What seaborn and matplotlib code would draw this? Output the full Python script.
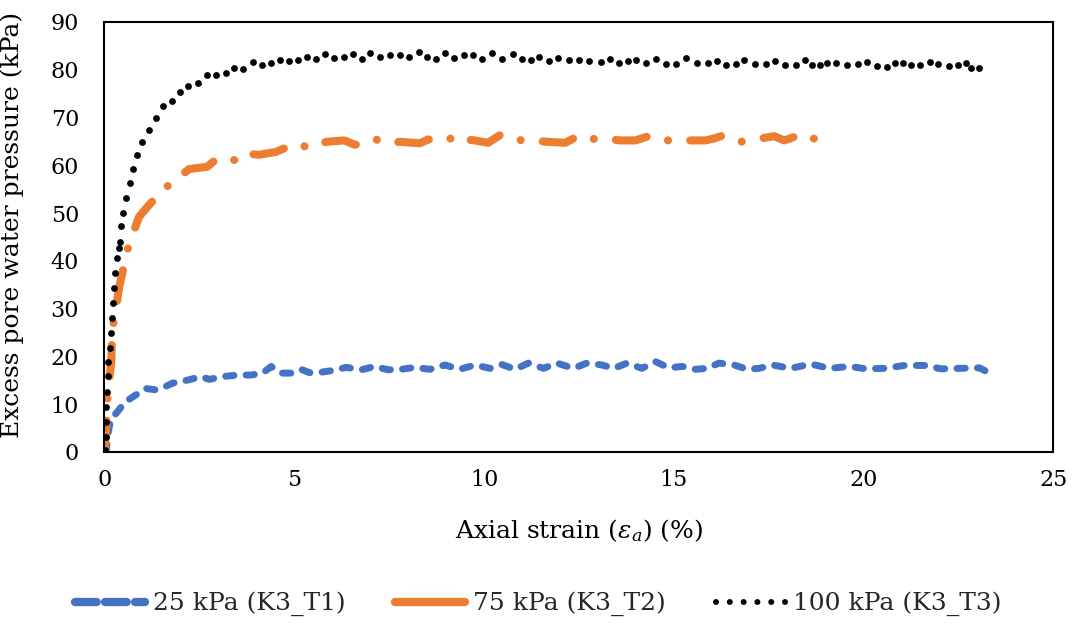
import matplotlib
matplotlib.use("Agg")
import matplotlib.pyplot as plt
from matplotlib.lines import Line2D
import seaborn as sns
import pandas as pd

# ---- data: axial strain (%) vs excess pore water pressure (kPa) ----
t1_strain = [0.0, 0.05, 0.09, 0.16, 0.34, 0.55, 0.82, 1.08, 1.35, 1.61, 1.79, 2.01, 2.27,
             2.54, 2.76, 3.15, 3.51, 3.86, 4.17, 4.39, 4.65, 4.92, 5.18, 5.40, 5.71, 5.97,
             6.37, 6.77, 7.12, 7.47, 7.82, 8.17, 8.57, 8.97, 9.36, 9.76, 10.16, 10.47,
             10.82, 11.17, 11.57, 11.92, 12.36, 12.71, 13.11, 13.42, 13.77, 14.16, 14.52,
             14.87, 15.22, 15.57, 15.88, 16.19, 16.59, 16.94, 17.25, 17.60, 18.08, 18.61,
             19.10, 19.62, 20.07, 20.55, 21.08, 21.61, 22.05, 22.53, 23.06, 23.20]
t1_pwp = [0.0, 0.4, 3.6, 6.7, 8.4, 10.5, 11.9, 13.3, 13.0, 13.7, 14.4, 14.7, 15.2,
          15.8, 15.2, 15.8, 16.1, 16.1, 16.5, 17.9, 16.5, 16.5, 17.3, 16.6, 16.7, 17.0,
          17.7, 17.2, 17.9, 17.2, 17.3, 17.7, 17.3, 18.2, 17.3, 18.2, 17.5, 18.3,
          17.3, 18.6, 17.5, 18.6, 17.5, 18.6, 18.2, 17.5, 18.6, 17.5, 18.9,
          17.6, 17.9, 17.3, 17.5, 18.6, 18.2, 17.3, 17.5, 18.2, 17.5, 18.4,
          17.5, 17.9, 17.4, 17.5, 18.1, 18.1, 17.4, 17.5, 17.6, 17.0]

t2_strain = [0.0, 0.05, 0.09, 0.18, 0.20, 0.30, 0.40, 0.47, 0.63, 0.91, 1.10, 1.30, 1.50,
             1.70, 2.23, 2.71, 2.98, 3.15, 3.42, 3.59, 4.08, 4.52, 5.05, 5.40, 5.84, 6.32,
             6.59, 6.94, 7.16, 7.34, 7.80, 8.31, 8.53, 8.88, 9.10, 9.23, 9.67, 10.11,
             10.42, 10.73, 11.17, 11.67, 12.14, 12.45, 12.67, 13.02, 13.59, 13.99, 14.34,
             14.61, 14.87, 15.40, 15.84, 16.10, 16.32, 16.63, 16.76, 17.16, 17.64, 17.91,
             18.31, 18.53, 18.98]
t2_pwp = [0.0, 6.0, 12.5, 19.0, 25.0, 30.0, 35.0, 37.4, 43.0, 49.2, 51.0, 52.8, 54.5,
          55.9, 59.2, 59.7, 61.5, 61.5, 61.1, 62.5, 62.2, 62.8, 64.6, 63.6, 64.9, 65.2,
          64.3, 64.5, 65.4, 64.7, 64.9, 64.6, 65.4, 65.2, 65.7, 64.7, 65.3, 64.7,
          66.3, 65.2, 65.3, 64.9, 64.7, 66.0, 65.2, 65.7, 65.2, 65.2, 66.1,
          65.3, 65.2, 65.2, 65.2, 65.7, 66.3, 65.3, 64.9, 65.4, 66.1, 65.2,
          66.3, 65.3, 66.1]

t3_strain = [0.02, 0.03, 0.04, 0.05, 0.07, 0.08, 0.09, 0.14, 0.18, 0.20, 0.23, 0.26, 0.29,
             0.32, 0.38, 0.40, 0.44, 0.49, 0.58, 0.67, 0.76, 0.85, 1.00, 1.17, 1.37, 1.54,
             1.79, 1.98, 2.21, 2.47, 2.69, 2.95, 3.20, 3.42, 3.66, 3.92, 4.15, 4.39, 4.63,
             4.87, 5.09, 5.33, 5.58, 5.80, 6.06, 6.32, 6.55, 6.78, 6.99, 7.27, 7.53, 7.78,
             8.03, 8.29, 8.51, 8.74, 8.97, 9.21, 9.47, 9.70, 9.95, 10.22, 10.47, 10.76,
             10.99, 11.23, 11.46, 11.70, 11.95, 12.23, 12.49, 12.76, 13.07, 13.31, 13.55,
             13.79, 14.00, 14.28, 14.52, 14.80, 15.06, 15.33, 15.61, 15.89, 16.13, 16.38,
             16.63, 16.86, 17.14, 17.42, 17.67, 17.94, 18.22, 18.46, 18.64, 18.85, 19.05,
             19.27, 19.56, 19.85, 20.08, 20.35, 20.61, 20.82, 21.04, 21.26, 21.49, 21.74,
             21.97, 22.25, 22.50, 22.69, 22.84, 23.04]
t3_pwp = [0.4, 3.2, 6.3, 9.5, 12.6, 15.8, 18.9, 21.8, 25.0, 28.1, 31.2, 34.3, 37.4,
          40.5, 42.6, 44.0, 47.2, 50.1, 53.1, 56.2, 59.2, 62.2, 64.9, 67.4, 69.8, 72.3,
          73.5, 75.3, 76.5, 77.2, 78.9, 78.8, 79.4, 80.3, 80.1, 81.7, 81.0, 81.3, 82.0,
          81.8, 82.0, 82.7, 82.2, 83.2, 82.5, 82.7, 83.2, 82.3, 83.4, 82.7, 83.0, 83.0,
          82.6, 83.6, 82.7, 82.3, 83.5, 82.5, 83.0, 83.0, 82.3, 83.4, 82.2, 83.2,
          82.3, 82.0, 82.7, 81.8, 82.4, 82.0, 82.0, 81.9, 81.6, 82.2, 81.5,
          81.9, 82.0, 81.4, 82.3, 81.2, 81.1, 82.4, 81.3, 81.4, 81.9, 81.0,
          81.1, 82.1, 81.1, 81.1, 81.9, 81.0, 81.0, 82.0, 80.9, 81.0, 81.4,
          81.3, 80.9, 81.2, 81.7, 80.7, 80.6, 81.5, 81.4, 80.9, 80.9, 81.7,
          81.2, 80.7, 81.0, 81.5, 80.4, 80.4]

series_labels = ["25 kPa (K3_T1)", "75 kPa (K3_T2)", "100 kPa (K3_T3)"]
x_ticks = [0, 5, 10, 15, 20, 25]
y_ticks = [0, 10, 20, 30, 40, 50, 60, 70, 80, 90]

BLUE = "#4472C4"
ORANGE = "#ED7D31"
BLACK = "#000000"

sns.set_theme(style="white")
plt.rcParams["font.family"] = ["DejaVu Serif"]
plt.rcParams["mathtext.fontset"] = "dejavuserif"

df1 = pd.DataFrame({"strain": t1_strain, "pwp": t1_pwp})
df2 = pd.DataFrame({"strain": t2_strain, "pwp": t2_pwp})
df3 = pd.DataFrame({"strain": t3_strain, "pwp": t3_pwp})

fig = plt.figure(figsize=(10.77, 6.26), dpi=100)
ax = fig.add_axes([0.097, 0.278, 0.881, 0.687])

blue_ls = (0, (1.2, 1.75))
orange_ls = (0, (3.9, 2.75, 0.01, 2.75))

sns.lineplot(data=df1, x="strain", y="pwp", ax=ax, sort=False, estimator=None,
             color=BLUE, linewidth=5.0, linestyle=blue_ls, legend=False)
sns.lineplot(data=df2, x="strain", y="pwp", ax=ax, sort=False, estimator=None,
             color=ORANGE, linewidth=5.8, linestyle=orange_ls, legend=False)
sns.scatterplot(data=df3, x="strain", y="pwp", ax=ax, color=BLACK, s=24,
                linewidth=0, legend=False, zorder=4)

for ln in ax.get_lines():
    ln.set_dash_capstyle("round")
    ln.set_solid_capstyle("round")

ax.set_xlim(0, 25)
ax.set_ylim(0, 90)
ax.set_xticks(x_ticks)
ax.set_yticks(y_ticks)
ax.tick_params(axis="both", direction="out", length=5.8, width=1.3,
               color="black", labelsize=16, labelcolor="black")
ax.tick_params(axis="x", pad=6.5)
ax.tick_params(axis="y", pad=12.5)
for sp in ax.spines.values():
    sp.set_visible(True)
    sp.set_color("black")
    sp.set_linewidth(1.5)

ax.set_xlabel(r"Axial strain ($\varepsilon_a$) (%)", fontsize=18, color="black")
ax.set_ylabel("Excess pore water pressure (kPa)", fontsize=18, color="black")
ax.xaxis.set_label_coords(0.5, -0.152)
ax.yaxis.set_label_coords(-0.085, 0.528)

handles = [
    Line2D([], [], color=BLUE, linewidth=6.0, linestyle=(0, (2.6, 1.0)),
           dash_capstyle="round"),
    Line2D([], [], color=ORANGE, linewidth=6.0, linestyle="-",
           solid_capstyle="round"),
    Line2D([], [], color=BLACK, linewidth=4.3, linestyle=(0, (0.01, 2.3)),
           dash_capstyle="round"),
]
fig.legend(handles, series_labels, loc="center", bbox_to_anchor=(0.5, 0.035),
           ncol=3, frameon=False, fontsize=18, handlelength=2.8,
           handletextpad=0.3, columnspacing=2.0)

fig.savefig("out.png", dpi=100, facecolor="white")
